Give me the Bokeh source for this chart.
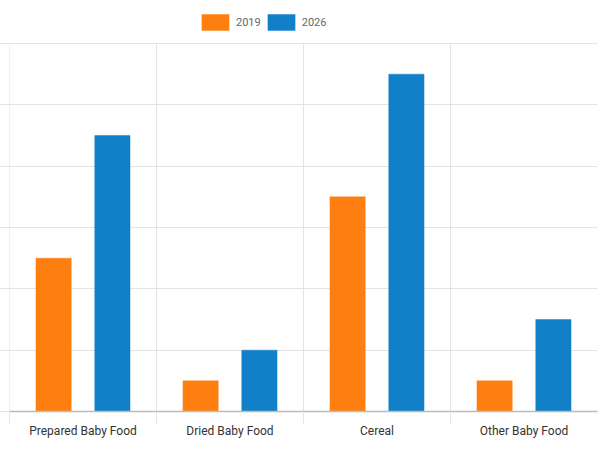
import numpy as np
from bokeh.plotting import figure
from bokeh.models import ColumnDataSource, Range1d, FixedTicker, Legend, LegendItem
from bokeh.transform import dodge
from bokeh.embed import file_html
from bokeh.resources import INLINE

categories = ["Prepared Baby Food", "Dried Baby Food", "Cereal", "Other Baby Food"]
series_names = ["2019", "2026"]
values_2019 = [2.5, 0.5, 3.5, 0.5]
values_2026 = [4.5, 1.0, 5.5, 1.5]
y_ticks = [0, 1, 2, 3, 4, 5, 6]

colors = ["#fe7f10", "#1180c9"]
FONT = "Roboto"
GRID = "#e4e4e4"

pos = (np.arange(len(categories)) + 0.5).tolist()
bounds = np.arange(len(categories)).tolist()
source = ColumnDataSource(dict(x=pos, cat=categories, v2019=values_2019, v2026=values_2026))

# frame spans full height so the legend (drawn in the frame) is not clipped;
# the data area (0..6) occupies the lower 368 px of the 411 px frame
frame_h, data_h = 411, 368
y_top = y_ticks[-1] * frame_h / data_h

p = figure(width=600, height=452,
           x_range=Range1d(0, len(categories)),
           y_range=Range1d(y_ticks[0], y_top),
           output_backend="svg", toolbar_location=None,
           min_border_left=0, min_border_right=3, min_border_top=0, min_border_bottom=41)
p.outline_line_color = None
p.background_fill_color = "white"

# vertical category separators
p.segment(x0=bounds, y0=[y_ticks[0]] * len(bounds), x1=bounds, y1=[y_ticks[-1]] * len(bounds),
          line_color=GRID, line_width=1)

r1 = p.vbar(x=dodge('x', -0.2, range=p.x_range), top='v2019', width=0.24, source=source,
            fill_color=colors[0], line_color=colors[0], line_alpha=0.45, line_width=1)
r2 = p.vbar(x=dodge('x', 0.2, range=p.x_range), top='v2026', width=0.24, source=source,
            fill_color=colors[1], line_color=colors[1], line_alpha=0.45, line_width=1)

# y axis: short outward ticks only, no labels
ya = p.yaxis[0]
ya.ticker = FixedTicker(ticks=y_ticks)
ya.bounds = (y_ticks[0], y_ticks[-1])
ya.major_label_overrides = {t: "" for t in y_ticks}
ya.major_label_standoff = 0
ya.major_label_text_font_size = "1px"
ya.major_tick_out = 9
ya.major_tick_in = 0
ya.major_tick_line_color = GRID
ya.minor_tick_line_color = None
ya.axis_line_color = None

# x axis
xa = p.xaxis[0]
xa.ticker = FixedTicker(ticks=pos, minor_ticks=bounds)
xa.major_label_overrides = {x: c for x, c in zip(pos, categories)}
xa.major_tick_line_color = None
xa.major_tick_out = 0
xa.major_tick_in = 0
xa.minor_tick_out = 12
xa.minor_tick_in = 0
xa.minor_tick_line_color = GRID
xa.axis_line_color = "#bbbbbb"
xa.axis_line_width = 1.5
xa.major_label_standoff = 0
xa.major_label_text_font = FONT
xa.major_label_text_font_size = "12px"
xa.major_label_text_color = "#333333"

# grids
p.xgrid.grid_line_color = None
p.ygrid.ticker = FixedTicker(ticks=y_ticks)
p.ygrid.grid_line_color = GRID

legend = Legend(items=[LegendItem(label=series_names[0], renderers=[r1]),
                       LegendItem(label=series_names[1], renderers=[r2])],
                location=(189, 379), orientation="horizontal",
                glyph_width=34, glyph_height=20, label_height=20, label_standoff=4,
                spacing=3, padding=0, margin=0,
                border_line_alpha=0, background_fill_alpha=0,
                label_text_font=FONT, label_text_font_size="11px",
                label_text_color="#666666")
p.add_layout(legend)

open("out.html", "w").write(file_html(p, INLINE))
